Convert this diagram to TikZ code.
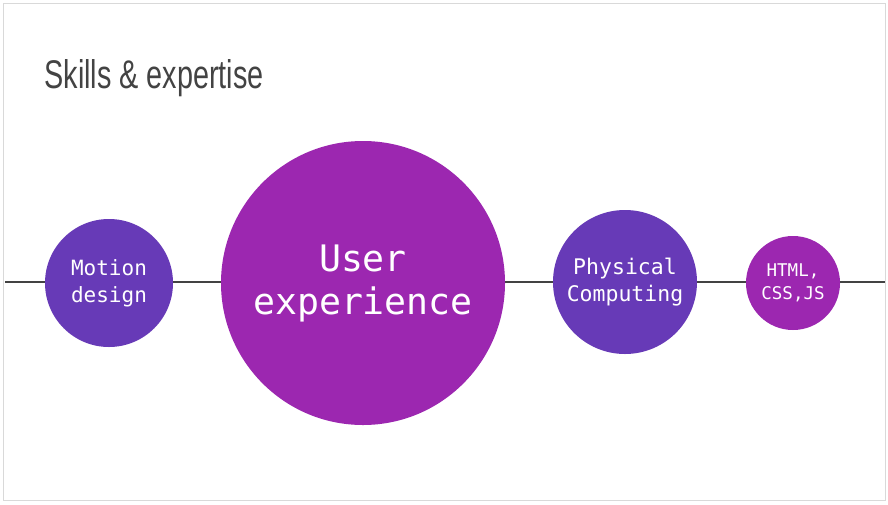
\documentclass[tikz,border=0pt]{standalone}
\usepackage{fontspec}
\setmainfont{Liberation Sans}
\setmonofont{DejaVu Sans Mono}
\definecolor{violet}{HTML}{673AB7}
\definecolor{purp}{HTML}{9C27B0}
\definecolor{ttl}{HTML}{434343}
\begin{document}
\begin{tikzpicture}[x=1pt,y=-1pt,
  bub/.style={circle,inner sep=0pt,text=white,align=center,font=\ttfamily}]
\useasboundingbox (0,0) rectangle (888,504);
\fill[white] (0,0) rectangle (888,504);
\draw[draw=black!15,line width=1pt] (3,3) rectangle (885,500);
\node[anchor=west,text=ttl,font=\fontsize{40}{44}\selectfont,xscale=0.72] (t) at (42,78) {Skills \& expertise};
\coordinate (L) at (5,282);
\coordinate (R) at (885,282);
\draw[ttl,line width=1.5pt] (L) -- (R);
\node[bub,fill=violet,minimum size=128pt,font=\ttfamily\fontsize{21}{27}\selectfont] (m) at (109,283) {Motion\\design};
\node[bub,fill=purp,minimum size=284pt,font=\ttfamily\fontsize{36.5}{43}\selectfont] (u) at (363,283) {User\\experience};
\node[bub,fill=violet,minimum size=144pt,font=\ttfamily\fontsize{21.5}{27}\selectfont] (p) at (625,282) {Physical\\Computing};
\node[bub,fill=purp,minimum size=94pt,font=\ttfamily\fontsize{17.5}{23}\selectfont] (h) at (793,283) {HTML,\\CSS,JS};
\end{tikzpicture}
\end{document}
